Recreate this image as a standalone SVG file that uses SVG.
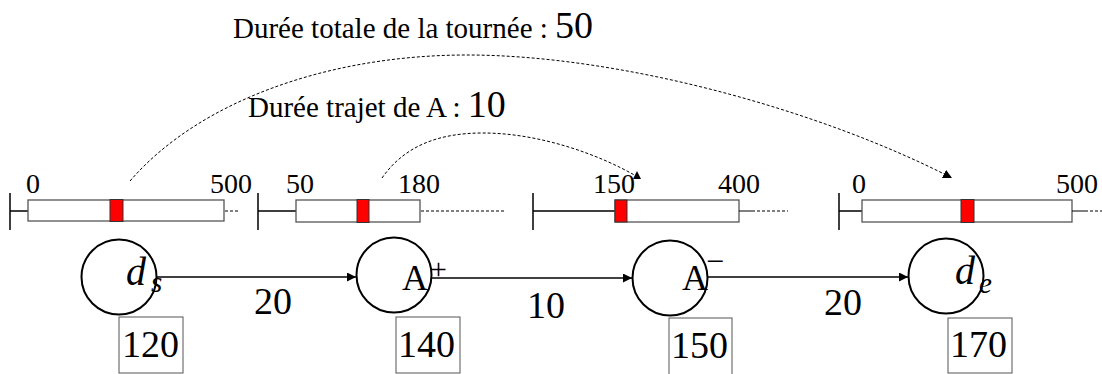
<svg xmlns="http://www.w3.org/2000/svg" width="1102" height="374" viewBox="0 0 1102 374">
<defs>
<style>
.txt{font-family:"Liberation Serif","Times New Roman",serif;fill:#000}
.title{font-size:29px}
.big{font-size:38px}
.tl{font-size:28px}
.node{fill:#fff;stroke:#000;stroke-width:2}
.box{fill:#fff;stroke:#555;stroke-width:1.3}
.red{fill:#f00;stroke:#333;stroke-width:1}
.tick{stroke:#000;stroke-width:1.5;fill:none}
.dash{stroke:#000;stroke-width:1;stroke-dasharray:3 2;fill:none}
.vbox{fill:#fff;stroke:#555;stroke-width:1}
.edge{stroke:#000;stroke-width:1.3;fill:none}
</style>
<marker id="ah" viewBox="0 0 10 10" refX="10" refY="5" markerWidth="9" markerHeight="9" markerUnits="userSpaceOnUse" orient="auto">
<path d="M0,0 L10,5 L0,10 z" fill="#000"/>
</marker>
</defs>
<rect width="1102" height="374" fill="#fff"/>

<text class="txt title" x="233" y="38">Durée totale de la tournée : <tspan font-size="38">50</tspan></text>
<text class="txt title" x="248" y="117">Durée trajet de A : <tspan font-size="38">10</tspan></text>

<g id="timeline-ds">
<path class="tick" d="M10,193 V230 M10,211 H28"/>
<rect class="box" x="28" y="200" width="196" height="21"/>
<rect class="red" x="110" y="199.5" width="13" height="22"/>
<path class="dash" d="M225,211 H240"/>
<text class="txt tl" x="26" y="193">0</text>
<text class="txt tl" x="210" y="193">500</text>
</g>
<g id="timeline-Aplus">
<path class="tick" d="M258,193 V230 M258,211 H296"/>
<rect class="box" x="296" y="200" width="124" height="22"/>
<rect class="red" x="357" y="199.5" width="12" height="23"/>
<path class="dash" d="M421,211 H505"/>
<text class="txt tl" x="286" y="193">50</text>
<text class="txt tl" x="398" y="193">180</text>
</g>
<g id="timeline-Aminus">
<path class="tick" d="M533,193 V230 M533,211 H615"/>
<rect class="box" x="615" y="200" width="124" height="22"/>
<rect class="red" x="615" y="200" width="12" height="22"/>
<path class="tick" d="M739,211 H752" style="stroke-width:1"/>
<path class="dash" d="M752,211 H788"/>
<text class="txt tl" x="593" y="193">150</text>
<text class="txt tl" x="718" y="193">400</text>
</g>
<g id="timeline-de">
<path class="tick" d="M839,193 V230 M839,211 H862"/>
<rect class="box" x="862" y="200" width="210" height="22"/>
<rect class="red" x="961" y="199.5" width="13" height="23"/>
<path class="tick" d="M1072,211 H1085" style="stroke-width:1"/>
<path class="dash" d="M1085,211 H1102"/>
<text class="txt tl" x="852" y="193">0</text>
<text class="txt tl" x="1056" y="193">500</text>
</g>

<g id="connectors">
<line class="edge" x1="157" y1="277" x2="356" y2="277" marker-end="url(#ah)"/>
<line class="edge" x1="432" y1="278" x2="632" y2="278" marker-end="url(#ah)"/>
<line class="edge" x1="708" y1="277" x2="908" y2="277" marker-end="url(#ah)"/>
<path class="dash" d="M130,181 C200,100 330,55 467,55 C620,55 820,110 952,178" marker-end="url(#ah)"/>
<path class="dash" d="M382,178 C405,145 440,133 483,133 C540,133 600,155 636,176"/>
<path d="M637,171 L633,179 L641,179 z" fill="#000"/>
<text class="txt big" x="254" y="314">20</text>
<text class="txt big" x="527" y="318">10</text>
<text class="txt big" x="824" y="315">20</text>
</g>

<g id="node-ds">
<circle class="node" cx="119" cy="277" r="37.5"/>
<text class="txt" x="126" y="285" font-size="40" font-style="italic">d</text>
<text class="txt" x="151" y="292" font-size="29" font-style="italic">s</text>
<rect class="vbox" x="119" y="317" width="64" height="56"/>
<text class="txt big" x="122" y="357">120</text>
</g>
<g id="node-Aplus">
<circle class="node" cx="394" cy="275" r="37.5"/>
<text class="txt" x="402" y="290" font-size="36">A</text>
<text class="txt" x="430" y="279" font-size="30">+</text>
<rect class="vbox" x="396" y="317" width="64" height="56"/>
<text class="txt big" x="398" y="357">140</text>
</g>
<g id="node-Aminus">
<circle class="node" cx="670" cy="278" r="37.5"/>
<text class="txt" x="682" y="290" font-size="36">A</text>
<text class="txt" x="706" y="272" font-size="32">−</text>
<rect class="vbox" x="669" y="318" width="63" height="58"/>
<text class="txt big" x="671" y="358">150</text>
</g>
<g id="node-de">
<circle class="node" cx="946" cy="276" r="37.5"/>
<text class="txt" x="955" y="284" font-size="40" font-style="italic">d</text>
<text class="txt" x="979" y="293" font-size="29" font-style="italic">e</text>
<rect class="vbox" x="948" y="318" width="64" height="55"/>
<text class="txt big" x="950" y="357">170</text>
</g>
</svg>
